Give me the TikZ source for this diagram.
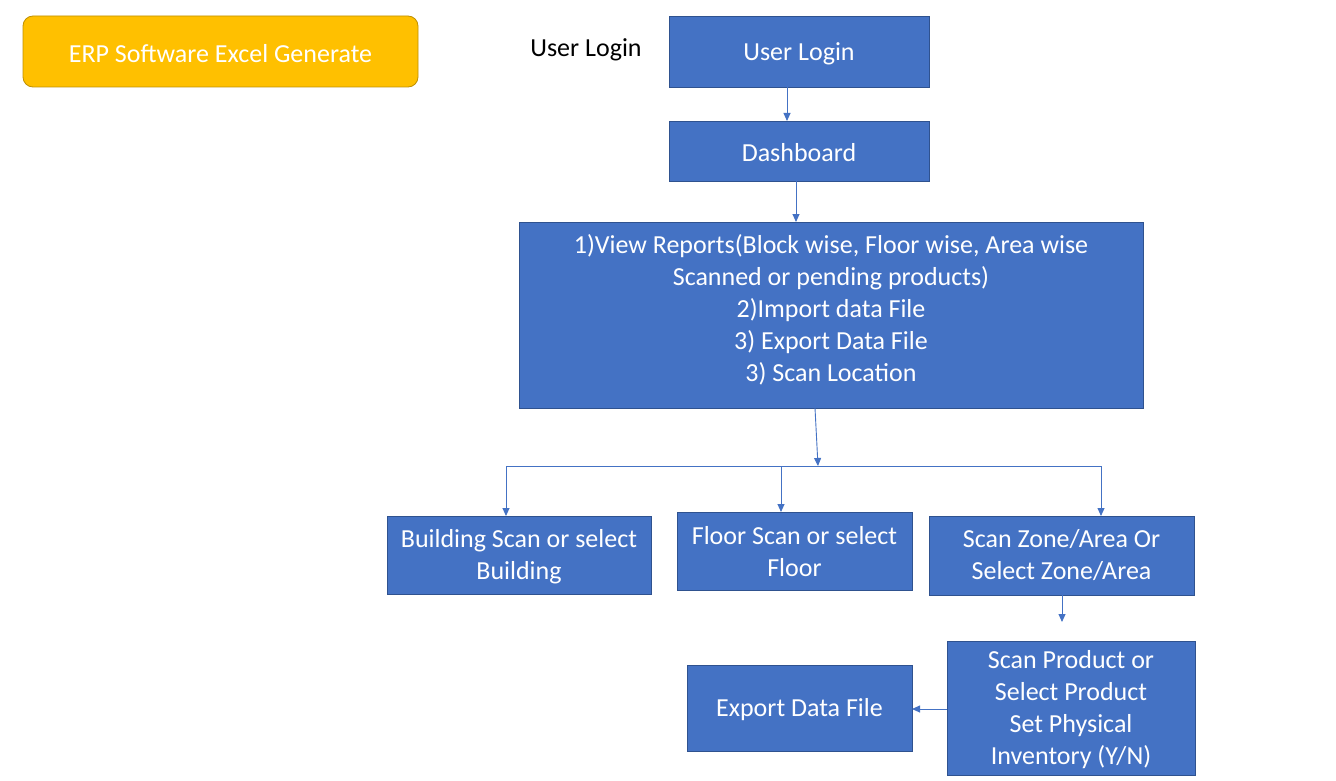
\documentclass[tikz,border=0pt]{standalone}
\usepackage{fontspec}
\setmainfont{Carlito}
\usetikzlibrary{arrows.meta}
\definecolor{boxblue}{HTML}{4472C4}
\definecolor{boxedge}{HTML}{2F528F}
\definecolor{gold}{HTML}{FFC000}
\definecolor{goldedge}{HTML}{BF9000}
\begin{document}
\begin{tikzpicture}[x=1pt,y=-1pt,
  every node/.style={font=\fontsize{26}{32}\selectfont},
  bbox/.style={draw=boxedge,line width=0.8pt,fill=boxblue,text=white,align=center,inner sep=0pt},
  conn/.style={draw=boxblue,line width=0.9pt},
  arr/.style={conn,-{Triangle[length=8pt,width=7pt]}}]
\useasboundingbox (0,0) rectangle (1336,781);
\fill[white] (0,0) rectangle (1336,781);
% title
\draw[draw=goldedge,fill=gold,rounded corners=10pt,line width=0.8pt] (23,16) rectangle (418,87);
\node[text=white] (erp) at (220.5,54) {ERP Software Excel Generate};
\node (ulabel) at (586,50) {User Login};
% boxes
\draw[bbox] (669,16) rectangle (929,87);
\node[text=white] (login) at (799,54) {User Login};
\draw[bbox] (669,121) rectangle (929,181);
\node[text=white] (dash) at (799,153) {Dashboard};
\draw[bbox] (519,222) rectangle (1143,408);
\node[text=white,align=center] (menu) at (831,310) {1)View Reports(Block wise, Floor wise, Area wise\\Scanned or pending products)\\2)Import data File\\3) Export Data File\\3) Scan Location};
\draw[bbox] (387,516) rectangle (651,594);
\node[text=white,align=center] (bld) at (519,557) {Building Scan or select\\Building};
\draw[bbox] (677,512) rectangle (912,590);
\node[text=white,align=center] (flr) at (794.5,552) {Floor Scan or select\\Floor};
\draw[bbox] (929,516) rectangle (1194,595);
\node[text=white,align=center] (zone) at (1061.5,555) {Scan Zone/Area Or\\Select Zone/Area};
\draw[bbox] (947,641) rectangle (1195,775);
\node[text=white,align=center] (prod) at (1071,710) {Scan Product or\\Select Product\\Set Physical\\Inventory (Y/N)};
\draw[bbox] (687,665) rectangle (912,751);
\node[text=white] (exp) at (799.5,710) {Export Data File};
% named anchor points
\coordinate (l1) at (787,87);
\coordinate (l2) at (787,121);
\coordinate (d1) at (796,181);
\coordinate (d2) at (796,222);
\coordinate (m1) at (815,408);
\coordinate (j) at (818,466);
\coordinate (hl) at (506,466);
\coordinate (hm) at (781,466);
\coordinate (hr) at (1101,466);
\coordinate (bt) at (506,516);
\coordinate (ft) at (781,512);
\coordinate (zt) at (1101,516);
\coordinate (z1) at (1062,595);
\coordinate (z2) at (1062,622);
\coordinate (p1) at (947,709);
\coordinate (e1) at (912,709);
% connectors
\draw[arr] (l1) -- (l2);
\draw[arr] (d1) -- (d2);
\draw[arr] (m1) -- (j);
\draw[conn] (hl) -- (hr);
\draw[arr] (hl) -- (bt);
\draw[arr] (hm) -- (ft);
\draw[arr] (hr) -- (zt);
\draw[arr] (z1) -- (z2);
\draw[arr] (p1) -- (e1);
\end{tikzpicture}
\end{document}
